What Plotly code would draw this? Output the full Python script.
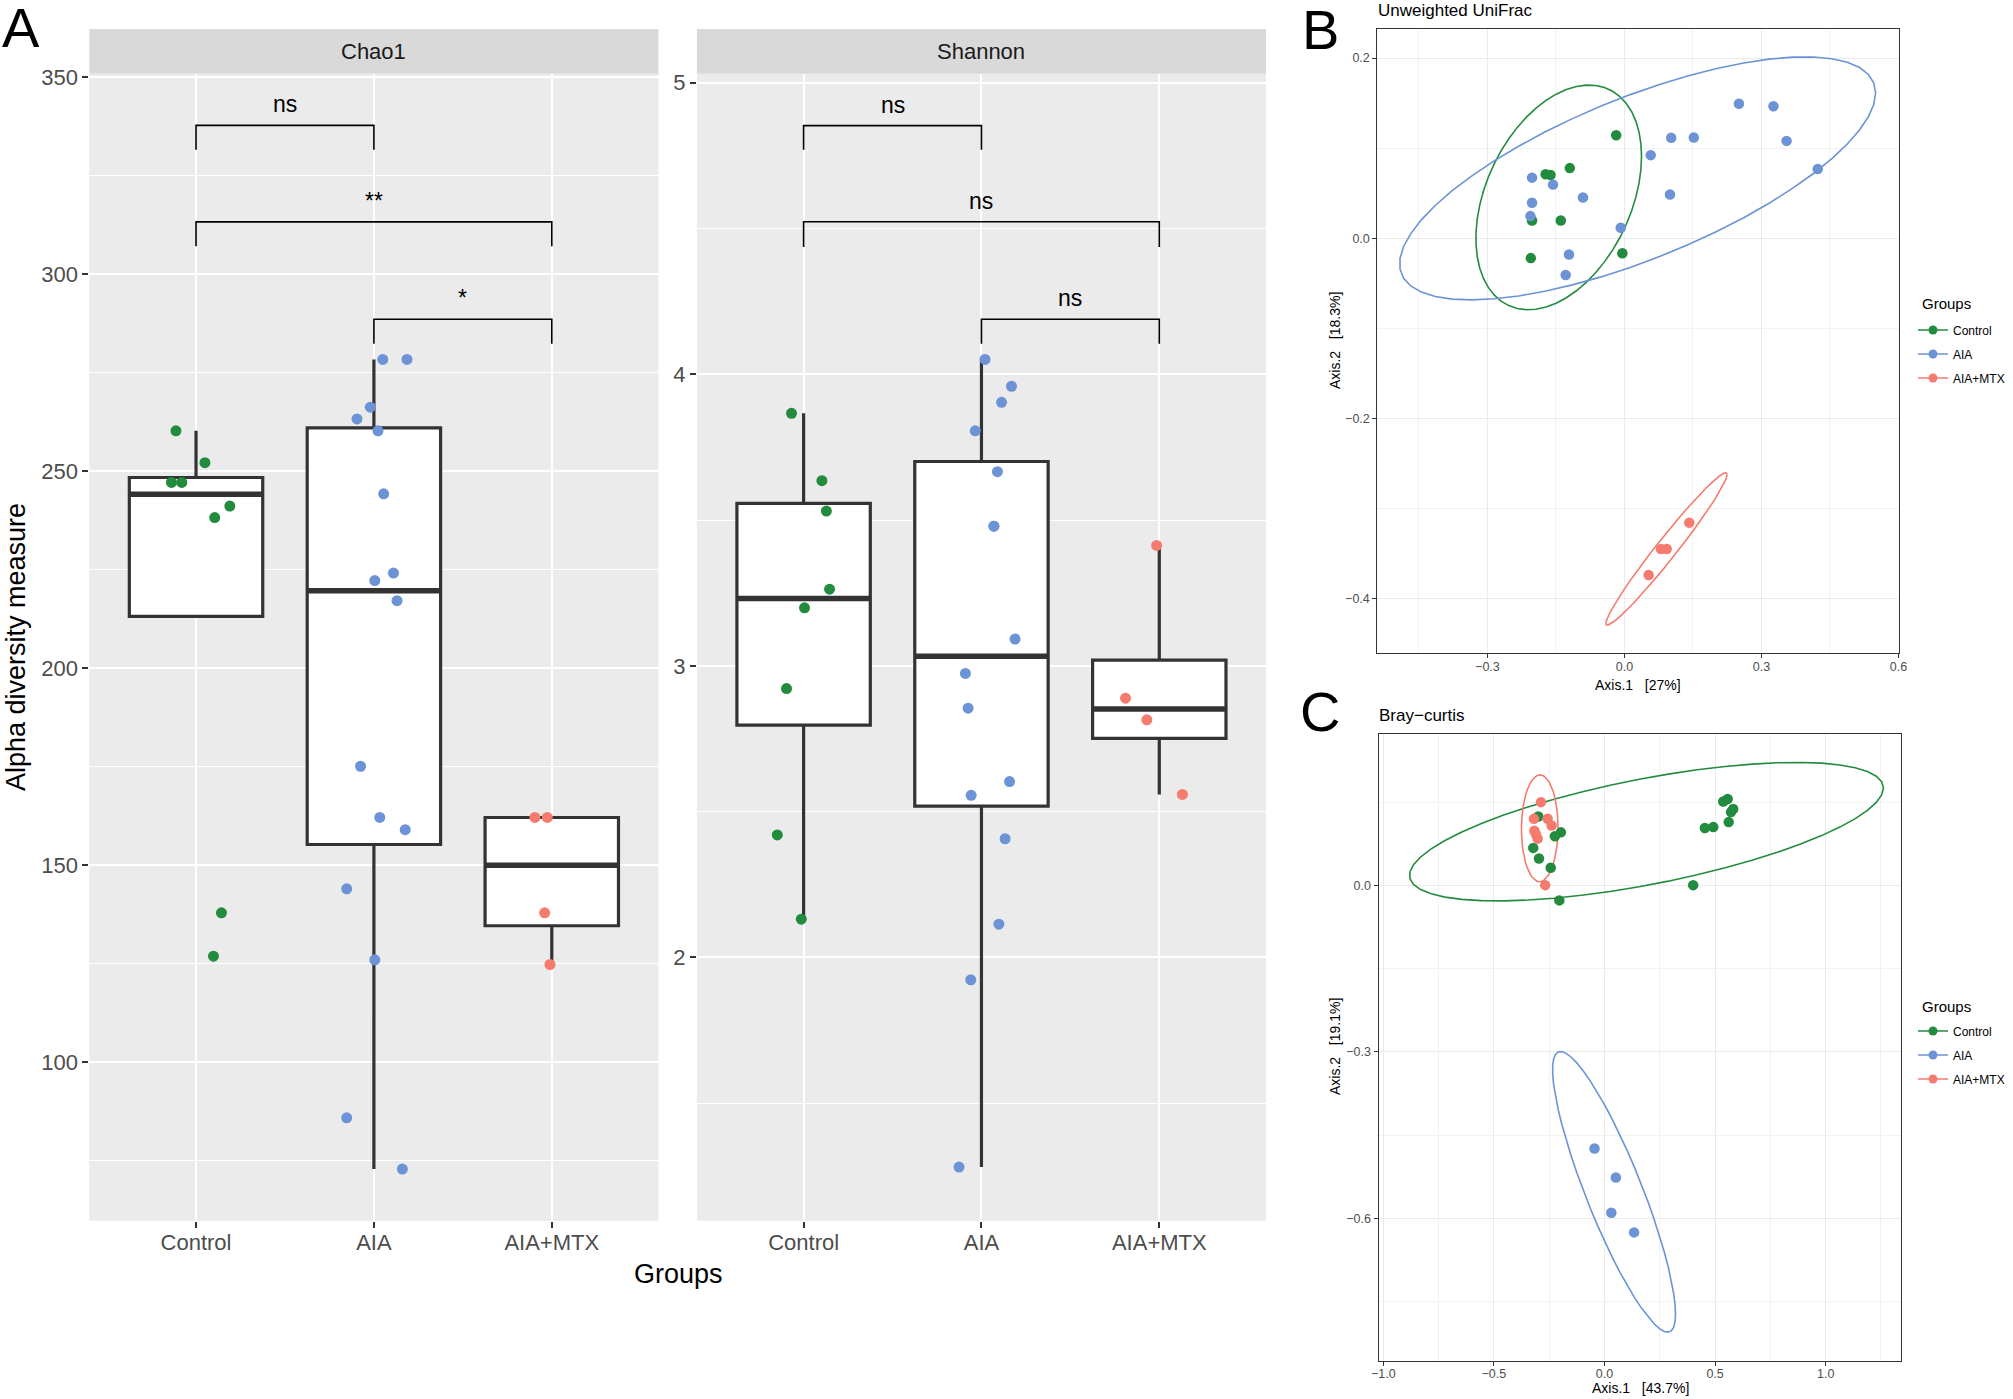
import numpy as np
import plotly.graph_objects as go

W, H = 2013, 1399
FONT = "Liberation Sans, Arial, Helvetica, sans-serif"

# ---------------- data ----------------
groups = ["Control", "AIA", "AIA+MTX"]
group_pos = [1, 2, 3]
group_colors = ["#238B3E", "#6B93D6", "#F47B6E"]

# Alpha diversity: Chao1 (values) and horizontal jitter offsets
chao1_control = [260.2, 252.1, 247.1, 247.1, 241.1, 238.2, 137.9, 126.9]
chao1_control_jit = [-0.113, 0.05, -0.138, -0.08, 0.19, 0.105, 0.143, 0.098]
chao1_aia = [278.3, 278.3, 266.2, 263.2, 260.2, 244.2, 224.1, 222.2, 217.1,
             175.1, 162.1, 159.0, 144.0, 126.0, 85.9, 72.9]
chao1_aia_jit = [0.05, 0.186, -0.02, -0.095, 0.023, 0.055, 0.11, 0.005, 0.13,
                 -0.075, 0.033, 0.176, -0.153, 0.005, -0.153, 0.16]
chao1_mtx = [162.1, 162.1, 137.9, 124.8]
chao1_mtx_jit = [-0.095, -0.025, -0.04, -0.01]

# Alpha diversity: Shannon
shannon_control = [3.866, 3.635, 3.531, 3.263, 3.199, 2.922, 2.420, 2.131]
shannon_control_jit = [-0.068, 0.103, 0.128, 0.146, 0.005, -0.096, -0.148, -0.013]
shannon_aia = [4.051, 3.959, 3.904, 3.806, 3.666, 3.479, 3.479, 3.092, 2.974,
               2.855, 2.603, 2.556, 2.407, 2.114, 1.923, 1.281]
shannon_aia_jit = [0.02, 0.169, 0.113, -0.035, 0.09, 0.07, 0.07, 0.189, -0.09,
                   -0.075, 0.158, -0.058, 0.133, 0.098, -0.06, -0.126]
shannon_mtx = [3.413, 2.889, 2.815, 2.559]
shannon_mtx_jit = [-0.015, -0.19, -0.07, 0.13]

# significance brackets: (from group, to group, bar level, tip level, label)
chao1_sig_from = [1, 1, 2]
chao1_sig_to = [2, 3, 3]
chao1_sig_level = [337.7, 313.2, 288.5]
chao1_sig_tip = [331.5, 307.0, 282.3]
chao1_sig_label = ["ns", "**", "*"]
shannon_sig_from = [1, 1, 2]
shannon_sig_to = [2, 3, 3]
shannon_sig_level = [4.853, 4.523, 4.189]
shannon_sig_tip = [4.770, 4.437, 4.105]
shannon_sig_label = ["ns", "ns", "ns"]

# Beta diversity: Unweighted UniFrac PCoA
uni_control_x = [-0.018, -0.1196, -0.1726, -0.1618, -0.2023, -0.1394, -0.205, -0.0045]
uni_control_y = [0.1142, 0.0778, 0.0710, 0.0701, 0.0197, 0.0197, -0.0221, -0.0168]
uni_aia_x = [0.2508, 0.3264, 0.1025, 0.1519, 0.3551, 0.0575, 0.4234, -0.2023,
             -0.1564, -0.0908, 0.0998, -0.2023, -0.2059, -0.0081, -0.1214, -0.1286]
uni_aia_y = [0.1493, 0.1464, 0.1114, 0.1118, 0.1080, 0.0922, 0.0768, 0.0672,
             0.0595, 0.0451, 0.0485, 0.0394, 0.0245, 0.0115, -0.0182, -0.0408]
uni_mtx_x = [0.142, 0.080, 0.0926, 0.053]
uni_mtx_y = [-0.3158, -0.3451, -0.3451, -0.3739]

# Beta diversity: Bray-curtis PCoA
bray_control_x = [0.537, 0.557, 0.582, 0.572, 0.5615, 0.454, 0.492, 0.401,
                  -0.299, -0.197, -0.224, -0.322, -0.296, -0.243, -0.204]
bray_control_y = [0.151, 0.1555, 0.1376, 0.132, 0.114, 0.1034, 0.105, 0.0004,
                  0.124, 0.0955, 0.0884, 0.0675, 0.0483, 0.0316, -0.0271]
bray_aia_x = [-0.045, 0.0515, 0.031, 0.134]
bray_aia_y = [-0.4743, -0.5266, -0.590, -0.6254]
bray_mtx_x = [-0.287, -0.319, -0.257, -0.239, -0.317, -0.310, -0.302, -0.268]
bray_mtx_y = [0.150, 0.120, 0.120, 0.108, 0.0986, 0.092, 0.0842, 0.0004]

# ---------------- helpers ----------------
def xdom(a, b):
    return [a / W, b / W]

def ydom(top, bottom):
    return [1 - bottom / H, 1 - top / H]

def box_stats(v):
    v = np.asarray(v, float)
    q1, med, q3 = np.percentile(v, [25, 50, 75])
    iqr = q3 - q1
    lo = min(q1, v[v >= q1 - 1.5 * iqr].min())
    hi = max(q3, v[v <= q3 + 1.5 * iqr].max())
    return q1, med, q3, lo, hi

def cov_trob(X, nu=5, maxit=25, tol=0.01):
    n, p = X.shape
    wt = np.ones(n)
    loc = X.mean(axis=0)
    w = np.sqrt(wt)
    Xc = X - loc
    for _ in range(maxit):
        w0 = w
        Xc = X - loc
        S = (Xc * (w / w.sum())[:, None]).T @ Xc
        Q = np.einsum("ij,jk,ik->i", Xc, np.linalg.inv(S), Xc)
        w = (wt * (nu + p)) / (nu + Q)
        loc = (w[:, None] * X).sum(axis=0) / w.sum()
        if np.all(np.abs(w - w0) < tol):
            break
    sw = np.sqrt(w)[:, None] * Xc
    cov = sw.T @ sw / wt.sum()
    return loc, cov

def ellipse(xs, ys, level=0.95, segments=51):
    X = np.column_stack([xs, ys]).astype(float)
    center, shape = cov_trob(X)
    d = X.shape[0] - 1
    qf = d / 2.0 * ((1 - level) ** (-2.0 / d) - 1)  # F(2, d) quantile
    radius = np.sqrt(2 * qf)
    ang = np.linspace(0, 2 * np.pi, segments + 1)
    circ = np.column_stack([np.cos(ang), np.sin(ang)])
    L = np.linalg.cholesky(shape)
    pts = center + radius * (circ @ L.T)
    return pts[:, 0], pts[:, 1]

fig = go.Figure()

# ---------------- panel A ----------------
alpha_sets = [
    ("x", "y", [chao1_control, chao1_aia, chao1_mtx],
     [chao1_control_jit, chao1_aia_jit, chao1_mtx_jit],
     chao1_sig_from, chao1_sig_to, chao1_sig_level, chao1_sig_tip, chao1_sig_label),
    ("x2", "y2", [shannon_control, shannon_aia, shannon_mtx],
     [shannon_control_jit, shannon_aia_jit, shannon_mtx_jit],
     shannon_sig_from, shannon_sig_to, shannon_sig_level, shannon_sig_tip, shannon_sig_label),
]
BOXW = 0.75
annotations = []
for xa, ya, vals, jits, sf, st, sl, stp, slab in alpha_sets:
    for gi in range(3):
        q1, med, q3, lo, hi = box_stats(vals[gi])
        fig.add_trace(go.Box(
            x=[group_pos[gi]], q1=[q1], median=[med], q3=[q3],
            lowerfence=[lo], upperfence=[hi], width=BOXW,
            fillcolor="white", line=dict(color="#333333", width=3.2),
            whiskerwidth=0, boxpoints=False, showlegend=False,
            xaxis=xa, yaxis=ya, hoverinfo="skip"))
        fig.add_trace(go.Scatter(
            x=[group_pos[gi] - BOXW / 2, group_pos[gi] + BOXW / 2], y=[med, med],
            mode="lines", line=dict(color="#333333", width=5.5),
            showlegend=False, xaxis=xa, yaxis=ya, hoverinfo="skip"))
    for gi in range(3):
        fig.add_trace(go.Scatter(
            x=[group_pos[gi] + j for j in jits[gi]], y=vals[gi], mode="markers",
            marker=dict(color=group_colors[gi], size=11, line=dict(width=0)),
            showlegend=False, xaxis=xa, yaxis=ya, name=groups[gi]))
    for a, b, lv, tp, lab in zip(sf, st, sl, stp, slab):
        fig.add_trace(go.Scatter(
            x=[a, a, b, b], y=[tp, lv, lv, tp], mode="lines",
            line=dict(color="black", width=1.6), showlegend=False,
            xaxis=xa, yaxis=ya, hoverinfo="skip"))
        annotations.append(dict(
            x=(a + b) / 2, y=lv, xref=xa, yref=ya, text=lab, showarrow=False,
            yanchor="bottom", yshift=6, font=dict(size=23, color="black", family=FONT)))

# ---------------- panels B and C ----------------
beta_sets = [
    ("x3", "y3", "legend", [(uni_control_x, uni_control_y), (uni_aia_x, uni_aia_y), (uni_mtx_x, uni_mtx_y)]),
    ("x4", "y4", "legend2", [(bray_control_x, bray_control_y), (bray_aia_x, bray_aia_y), (bray_mtx_x, bray_mtx_y)]),
]
for xa, ya, lg, sets in beta_sets:
    for gi, (gx, gy) in enumerate(sets):
        ex, ey = ellipse(gx, gy)
        fig.add_trace(go.Scatter(
            x=ex, y=ey, mode="lines", line=dict(color=group_colors[gi], width=1.6),
            showlegend=False, xaxis=xa, yaxis=ya, hoverinfo="skip"))
    for gi, (gx, gy) in enumerate(sets):
        fig.add_trace(go.Scatter(
            x=gx, y=gy, mode="markers", name=groups[gi],
            marker=dict(color=group_colors[gi], size=10.5, line=dict(width=0)),
            showlegend=False, xaxis=xa, yaxis=ya))
    for gi in range(3):
        fig.add_trace(go.Scatter(
            x=[None], y=[None], mode="lines+markers", name=groups[gi],
            line=dict(color=group_colors[gi], width=1.6),
            marker=dict(color=group_colors[gi], size=9),
            legend=lg, legendgroup=lg + groups[gi], showlegend=True,
            xaxis=xa, yaxis=ya))

# ---------------- axes ----------------
A_TOP, A_BOT = 73.7, 1220.7
chao_x = xdom(89.3, 658.5)
shan_x = xdom(696.9, 1266.0)

def alpha_xaxis(dom, anchor):
    return dict(domain=dom, anchor=anchor, range=[0.4, 3.6], tickvals=group_pos,
                ticktext=groups, showgrid=True, gridcolor="white", gridwidth=2.4,
                zeroline=False, ticks="outside", ticklen=6, tickwidth=2.2,
                tickcolor="#333333", tickfont=dict(size=22, color="#4D4D4D", family=FONT),
                showline=False, automargin=False, ticklabelstandoff=-4)

def alpha_yaxis(dom, anchor, rng, major, minor):
    return dict(domain=dom, anchor=anchor, range=rng, tickvals=major,
                showgrid=True, gridcolor="white", gridwidth=2.4, zeroline=False,
                ticks="outside", ticklen=6, tickwidth=2.2, tickcolor="#333333",
                tickfont=dict(size=22, color="#4D4D4D", family=FONT), showline=False,
                automargin=False,
                minor=dict(tickvals=minor, showgrid=True, gridcolor="white",
                           gridwidth=1.2, ticks=""))

def beta_axis(dom, anchor, rng, major, minor, standoff=0):
    return dict(domain=dom, anchor=anchor, range=rng, tickvals=major, tickformat=".1f",
                showgrid=True, gridcolor="#EBEBEB", gridwidth=1.2, zeroline=False,
                ticks="outside", ticklen=4, tickwidth=1.2, tickcolor="#333333",
                tickfont=dict(size=12.5, color="#4D4D4D", family=FONT),
                showline=True, mirror=True, linecolor="#333333", linewidth=1.2,
                automargin=False, ticklabelstandoff=standoff,
                minor=dict(tickvals=minor, showgrid=True, gridcolor="#F2F2F2",
                           gridwidth=0.8, ticks=""))

C_TOP, C_BOT = 734.1, 1360.5

layout = dict(
    width=W, height=H, margin=dict(l=0, r=0, t=0, b=0, pad=0, autoexpand=False),
    paper_bgcolor="white", plot_bgcolor="white",
    font=dict(family=FONT, color="black"),
    xaxis=alpha_xaxis(chao_x, "y"),
    yaxis=alpha_yaxis(ydom(A_TOP, A_BOT), "x", [59.8, 350.8],
                      [100, 150, 200, 250, 300, 350], [75, 125, 175, 225, 275, 325]),
    xaxis2=alpha_xaxis(shan_x, "y2"),
    yaxis2=alpha_yaxis(ydom(A_TOP, A_BOT), "x2", [1.097, 5.031],
                       [2, 3, 4, 5], [1.5, 2.5, 3.5, 4.5]),
    xaxis3=beta_axis(xdom(1377.4, 1899.3), "y3", [-0.541, 0.602],
                     [-0.3, 0.0, 0.3, 0.6], [-0.45, -0.15, 0.15, 0.45], standoff=-2),
    yaxis3=beta_axis(ydom(29.4, 652.8), "x3", [-0.4603, 0.2318],
                     [-0.4, -0.2, 0.0, 0.2], [-0.3, -0.1, 0.1]),
    xaxis4=beta_axis(xdom(1378.6, 1900.9), "y4", [-1.021, 1.340],
                     [-1.0, -0.5, 0.0, 0.5, 1.0], [-0.75, -0.25, 0.25, 0.75, 1.25], standoff=-3),
    yaxis4=beta_axis(ydom(C_TOP, C_BOT), "x4", [-0.8563, 0.2726],
                     [-0.6, -0.3, 0.0], [-0.75, -0.45, -0.15, 0.15]),
    legend=dict(x=1913 / W, y=1 - 315.5 / H, xanchor="left", yanchor="top",
                font=dict(size=12, color="black"), bgcolor="rgba(0,0,0,0)",
                tracegroupgap=5, itemwidth=30),
    legend2=dict(x=1913 / W, y=1 - 1016.5 / H, xanchor="left", yanchor="top",
                 font=dict(size=12, color="black"), bgcolor="rgba(0,0,0,0)",
                 tracegroupgap=5, itemwidth=30),
)

shapes = []
for xr, yr in (("x", "y"), ("x2", "y2")):
    shapes.append(dict(type="rect", xref=xr + " domain", yref=yr + " domain",
                       x0=0, x1=1, y0=0, y1=1, fillcolor="#EBEBEB",
                       line=dict(width=0), layer="below"))
for dom in (chao_x, shan_x):
    shapes.append(dict(type="rect", xref="paper", yref="paper", x0=dom[0], x1=dom[1],
                       y0=1 - A_TOP / H, y1=1 - 29.0 / H, fillcolor="#D9D9D9",
                       line=dict(width=0), layer="above"))
layout["shapes"] = shapes

def txt(x, y, s, size, angle=0, xanchor="center", color="black"):
    return dict(x=x / W, y=1 - y / H, xref="paper", yref="paper", text=s,
                showarrow=False, textangle=angle, xanchor=xanchor, yanchor="middle",
                font=dict(size=size, color=color, family=FONT))

NB = "\u00a0"
annotations += [
    txt((89.3 + 658.5) / 2, 51.3, "Chao1", 22, color="#1A1A1A"),
    txt((696.9 + 1266.0) / 2, 51.3, "Shannon", 22, color="#1A1A1A"),
    txt(16, 647, "Alpha diversity measure", 27, angle=-90),
    txt(678, 1274, "Groups", 27),
    txt(21, 28, "A", 56),
    txt(1320, 29.5, "B", 56),
    txt(1320, 711, "C", 56),
    txt(1375.5, 10.8, "Unweighted UniFrac", 17, xanchor="left"),
    txt(1376.5, 715, "Bray\u2212curtis", 17, xanchor="left"),
    txt(1638.4, 685, "Axis.1" + NB * 3 + "[27%]", 14),
    txt(1335, 341, "Axis.2" + NB * 3 + "[18.3%]", 14, angle=-90),
    txt(1640, 1388, "Axis.1" + NB * 3 + "[43.7%]", 14),
    txt(1335, 1047, "Axis.2" + NB * 3 + "[19.1%]", 14, angle=-90),
    txt(1920, 303, "Groups", 15, xanchor="left"),
    txt(1920, 1006.5, "Groups", 15, xanchor="left"),
]
layout["annotations"] = annotations
fig.update_layout(**layout)
fig.write_html("out.html", config={"displayModeBar": False},
               post_script="document.body.style.margin='0px';document.body.style.padding='0px';")
